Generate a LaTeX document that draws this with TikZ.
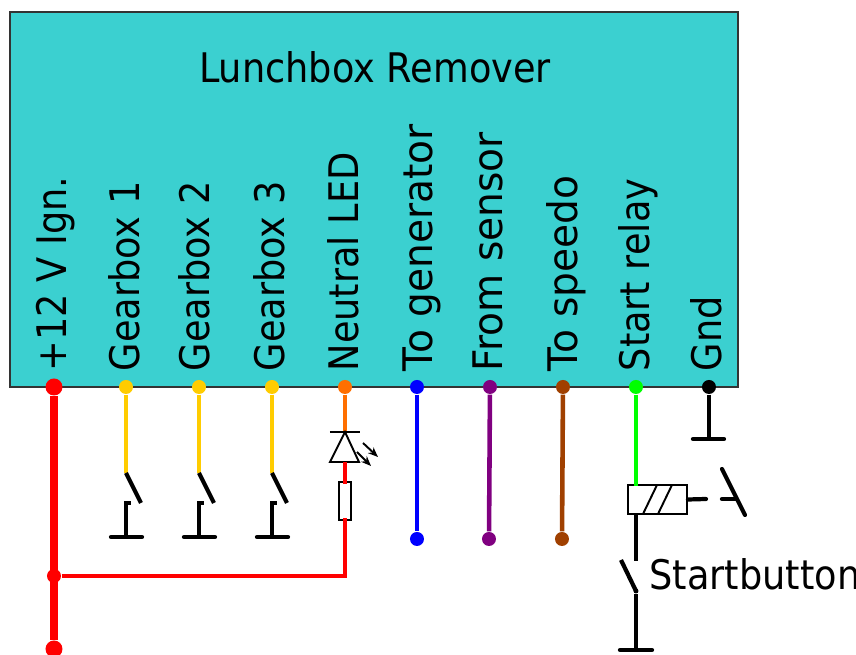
\documentclass[tikz,border=0pt]{standalone}
\usepackage{fontspec}
\setmainfont[FakeStretch=0.9]{DejaVu Sans}
\newfontfamily\widefont[FakeStretch=0.96]{DejaVu Sans}
\usetikzlibrary{arrows.meta}
\definecolor{boxcol}{HTML}{3BD0D0}
\definecolor{yellowwire}{HTML}{FFCC00}
\definecolor{orangewire}{HTML}{FF6F00}
\definecolor{purplewire}{HTML}{800080}
\definecolor{brownwire}{HTML}{A04000}
\tikzset{
	pin/.style={circle,fill=#1,inner sep=0pt,minimum size=0.14cm},
	bigpin/.style={circle,fill=red,inner sep=0pt,minimum size=0.17cm},
	wire/.style={line width=1.2pt},
	colwire/.style={line width=1.3pt,#1},
	power/.style={line width=2.2pt,red},
	thinline/.style={line width=0.55pt},
	txt/.style={inner sep=0pt,font=\fontsize{11.6}{11.6}\selectfont},
	lbl/.style={txt,rotate=90,anchor=base west},
}
\begin{document}
\begin{tikzpicture}[>={Stealth[length=0.1cm,width=0.08cm]}]
	\useasboundingbox (0,0) rectangle (8.56,6.55);
	\node [draw=black!80,line width=0.45pt,fill=boxcol,minimum width=7.28cm,minimum height=3.75cm,inner sep=0pt] (box) at (3.74,4.555) {};
	\node [txt] (title) at (3.75,5.88) {Lunchbox Remover};
%	labels
	\node [lbl] (l1) at (0.66,2.83) {+12 V Ign.};
	\node [lbl] (l2) at (1.40,2.83) {Gearbox 1};
	\node [lbl] (l3) at (2.10,2.83) {Gearbox 2};
	\node [lbl] (l4) at (2.85,2.83) {Gearbox 3};
	\node [lbl] (l5) at (3.59,2.83) {Neutral LED};
	\node [lbl] (l6) at (4.33,2.83) {\widefont To generator};
	\node [lbl] (l7) at (5.03,2.83) {\widefont From sensor};
	\node [lbl] (l8) at (5.78,2.83) {\widefont To speedo};
	\node [lbl] (l9) at (6.50,2.83) {Start relay};
	\node [lbl] (l10) at (7.22,2.83) {Gnd};
%	pins
	\node [bigpin] (ign) at (0.54,2.68) {};
	\node [pin=yellowwire] (gear1) at (1.26,2.68) {};
	\node [pin=yellowwire] (gear2) at (1.99,2.68) {};
	\node [pin=yellowwire] (gear3) at (2.72,2.68) {};
	\node [pin=orangewire] (led) at (3.45,2.68) {};
	\node [pin=blue] (gen) at (4.17,2.68) {};
	\node [pin=purplewire] (sensor) at (4.90,2.68) {};
	\node [pin=brownwire] (speedo) at (5.63,2.68) {};
	\node [pin=green] (relay) at (6.36,2.68) {};
	\node [pin=black] (gnd) at (7.09,2.68) {};
%	supply
	\node [bigpin] (ignend) at (0.54,0.06) {};
	\node [pin=red] (junction) at (0.54,0.79) {};
	\draw [power] (ign) -- (ignend);
	\coordinate (corner) at (3.45,0.79);
	\node [draw,thinline,fill=white,minimum width=0.12cm,minimum height=0.38cm,inner sep=0pt] (res) at (3.45,1.54) {};
	\draw [colwire=red] (junction) -- (corner) -- ([yshift=0.03cm]res.south);
%	gearbox switches
	\coordinate (g1top) at (1.26,1.82);
	\coordinate (g2top) at (1.99,1.82);
	\coordinate (g3top) at (2.72,1.82);
	\draw [colwire=yellowwire] (gear1) -- (g1top);
	\draw [colwire=yellowwire] (gear2) -- (g2top);
	\draw [colwire=yellowwire] (gear3) -- (g3top);
	\draw [wire] (g1top) -- (1.41,1.52);
	\draw [wire] (g2top) -- (2.14,1.52);
	\draw [wire] (g3top) -- (2.87,1.52);
	\draw [wire] (1.31,1.52) -- (1.26,1.52) -- (1.26,1.18);
	\draw [wire] (2.04,1.52) -- (1.99,1.52) -- (1.99,1.18);
	\draw [wire] (2.77,1.52) -- (2.72,1.52) -- (2.72,1.18);
	\draw [wire,line cap=round] (1.11,1.18) -- (1.42,1.18);
	\draw [wire,line cap=round] (1.84,1.18) -- (2.15,1.18);
	\draw [wire,line cap=round] (2.57,1.18) -- (2.88,1.18);
%	neutral led
	\coordinate (ledtop) at (3.45,2.23);
	\draw [colwire=orangewire] (led) -- (ledtop);
	\draw [thinline] (3.30,2.23) -- (3.60,2.23);
	\draw [thinline] (ledtop) -- (3.30,1.93) -- (3.59,1.93) -- cycle;
	\draw [colwire=red] (3.45,1.93) -- ([yshift=-0.03cm]res.north);
	\draw [->,thinline] (3.57,2.03) -- (3.71,1.89);
	\draw [->,thinline] (3.63,2.12) -- (3.78,1.98);
%	plain wires
	\node [pin=blue] (genend) at (4.17,1.16) {};
	\node [pin=purplewire] (sensorend) at (4.89,1.16) {};
	\node [pin=brownwire] (speedoend) at (5.62,1.16) {};
	\draw [colwire=blue] (gen) -- (genend);
	\draw [colwire=purplewire] (sensor) -- (sensorend);
	\draw [colwire=brownwire] (speedo) -- (speedoend);
%	start relay
	\node [draw,thinline,fill=white,minimum width=0.59cm,minimum height=0.29cm,inner sep=0pt] (coil) at (6.575,1.555) {};
	\draw [colwire=green] (relay) -- (6.36,1.69);
	\draw [thinline] (6.43,1.41) -- (6.57,1.70);
	\draw [thinline] (6.58,1.41) -- (6.72,1.70);
	\draw [wire] (6.36,1.41) -- (6.36,0.94);
	\draw [wire] (6.21,0.95) -- (6.36,0.64);
	\node [circle,fill=black,inner sep=0pt,minimum size=0.05cm] (btn) at (6.36,0.64) {};
	\draw [wire] (btn) -- (6.36,0.05);
	\draw [wire,line cap=round] (6.20,0.05) -- (6.52,0.05);
	\draw [wire,line cap=round] (coil.east) -- (7.06,1.56);
	\draw [wire,line cap=round] (7.22,1.56) -- (7.36,1.56);
	\draw [wire,line cap=round] (7.22,1.86) -- (7.45,1.40);
	\node [txt,anchor=base west] (start) at (6.49,0.65) {Startbutton};
%	ground
	\draw [wire] (gnd) -- (7.09,2.16);
	\draw [wire,line cap=round] (6.93,2.16) -- (7.24,2.16);
\end{tikzpicture}
\end{document}
